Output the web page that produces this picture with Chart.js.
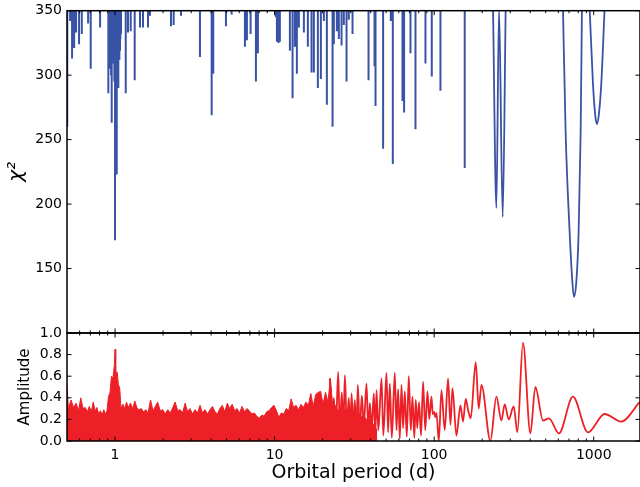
<!DOCTYPE html>
<html>
<head>
<meta charset="utf-8">
<script src="https://cdn.jsdelivr.net/npm/chart.js@4.4.1/dist/chart.umd.min.js"></script>
<style>
  html, body { margin: 0; padding: 0; background: #fff; }
  #wrap { position: relative; width: 640px; height: 487px; overflow: hidden; }
  .panel { position: absolute; left: 0; width: 640px; }
  #topPanel { top: 0; height: 334px; }
  #bottomPanel { top: 320px; height: 167px; }
</style>
</head>
<body>
<div id="wrap">
  <div class="panel" id="topPanel"><canvas id="chiChart"></canvas></div>
  <div class="panel" id="bottomPanel"><canvas id="ampChart"></canvas></div>
</div>
<script>
// Period axis (days), shared by both panels
const periodRange = [0.5, 1950];
const decadeLabels = [1, 10, 100, 1000];

// Top panel: chi-squared, narrow dips (period, minimum chi2)
const chiRange = [100, 350];
const dipPeriods = [0.502, 0.523, 0.538, 0.554, 0.570, 0.595, 0.619, 0.678, 0.704, 0.806,
    0.908, 0.915, 0.925, 0.935, 0.945, 0.953, 0.960, 0.965, 0.972, 0.980,
    0.990, 1.000, 1.008, 1.015, 1.025, 1.035, 1.049, 1.060, 1.065, 1.075,
    1.080, 1.090, 1.167, 1.206, 1.254, 1.328, 1.434, 1.497, 1.609, 1.656,
    2.242, 2.331, 2.590, 3.406, 4.032, 4.126, 4.956, 5.379, 6.517, 6.708,
    7.073, 7.637, 7.860, 10.19, 10.34, 10.59, 10.79, 12.47, 12.96, 13.40,
    13.79, 14.20, 15.26, 16.16, 17.04, 17.63, 18.67, 19.50, 20.36, 21.26,
    23.08, 23.51, 24.55, 25.27, 26.27, 27.16, 28.24, 29.19, 30.79, 38.79,
    42.29, 42.90, 47.86, 53.48, 55.06, 63.32, 64.79, 71.06, 76.37, 88.22,
    96.61, 109.5, 155.4];
const dipChi2 = [260, 342, 313, 321, 333, 324, 332, 340, 305, 337,
    286, 318, 305, 322, 300, 263, 316, 309, 312, 320,
    295, 172, 315, 305, 223, 318, 290, 325, 312, 319,
    328, 332, 286, 333, 334, 296, 337, 337, 337, 346,
    338, 339, 346, 314, 269, 301, 338, 347, 322, 327,
    332, 295, 317, 345, 326, 325, 326, 319, 282, 322,
    301, 337, 333, 322, 302, 302, 290, 297, 342, 277,
    260, 324, 334, 328, 323, 339, 295, 343, 332, 296,
    307, 276, 243, 342, 231, 280, 271, 317, 258, 309,
    299, 288, 228];

// Top panel: broad minima at long periods (null = curve leaves the frame)
const troughPeriods = [233.8, 245.5, 255.0, 268.9, 280.7, null,
    641.6, 667.0, 706.6, 734.5, 751.6, 778.2, 804.3, 827.9, 843.7, null,
    942.6, 988.5, 1020, 1047, 1078, 1116, 1170];
const troughChi2 = [352, 197, 352, 190, 352, null,
    352, 255, 178, 140, 128, 140, 178, 255, 352, null,
    352, 294, 270, 262, 270, 294, 352];

// Bottom panel: amplitude, dense short-period part (upper edge of the filled band)
const envPeriods = [0.50, 0.51, 0.53, 0.55, 0.57, 0.59, 0.61, 0.63, 0.65, 0.67,
    0.69, 0.71, 0.73, 0.75, 0.77, 0.79, 0.81, 0.83, 0.85, 0.87,
    0.89, 0.91, 0.93, 0.95, 0.97, 0.99, 1.00, 1.01, 1.03, 1.05,
    1.07, 1.09, 1.12, 1.15, 1.18, 1.21, 1.25, 1.29, 1.33, 1.37,
    1.41, 1.46, 1.51, 1.56, 1.61, 1.67, 1.73, 1.79, 1.85, 1.92,
    1.99, 2.06, 2.14, 2.22, 2.30, 2.38, 2.47, 2.56, 2.65, 2.75,
    2.85, 2.95, 3.06, 3.17, 3.29, 3.41, 3.53, 3.66, 3.80, 3.94,
    4.08, 4.23, 4.38, 4.54, 4.70, 4.87, 5.05, 5.23, 5.42, 5.62,
    5.82, 6.03, 6.25, 6.47, 6.71, 6.95, 7.20, 7.46, 7.73, 8.01,
    8.30, 8.60, 8.91, 9.23, 9.57, 9.91, 10.27, 10.64, 11.02, 11.42,
    11.83, 12.26, 12.70, 13.16, 13.63, 14.12, 14.63, 15.16, 15.71, 16.27,
    16.86, 17.47, 18.10, 18.75, 19.42, 20.12, 20.85, 21.60, 22.38, 23.2,
    24.0, 25.0, 26.0, 27.0, 28.0, 29.0, 30.0, 31.5, 33.0, 34.5,
    36.0, 38.0, 40.0, 42.0, 44.0];
const envAmp = [0.52, 0.30, 0.38, 0.31, 0.35, 0.28, 0.40, 0.30, 0.31, 0.27,
    0.32, 0.27, 0.36, 0.28, 0.31, 0.25, 0.28, 0.24, 0.29, 0.25,
    0.28, 0.41, 0.45, 0.60, 0.58, 0.70, 0.85, 0.62, 0.64, 0.52,
    0.49, 0.30, 0.34, 0.30, 0.36, 0.31, 0.35, 0.30, 0.37, 0.31,
    0.29, 0.30, 0.27, 0.29, 0.26, 0.38, 0.28, 0.32, 0.36, 0.28,
    0.29, 0.25, 0.29, 0.26, 0.31, 0.36, 0.28, 0.29, 0.26, 0.35,
    0.27, 0.30, 0.25, 0.29, 0.26, 0.33, 0.26, 0.29, 0.25, 0.29,
    0.32, 0.27, 0.25, 0.30, 0.33, 0.27, 0.35, 0.30, 0.34, 0.28,
    0.30, 0.26, 0.32, 0.27, 0.30, 0.28, 0.25, 0.26, 0.23, 0.21,
    0.24, 0.23, 0.27, 0.28, 0.31, 0.33, 0.28, 0.22, 0.26, 0.25,
    0.30, 0.28, 0.39, 0.31, 0.33, 0.29, 0.34, 0.31, 0.36, 0.33,
    0.44, 0.32, 0.43, 0.45, 0.46, 0.34, 0.45, 0.36, 0.58, 0.30,
    0.33, 0.28, 0.31, 0.27, 0.30, 0.25, 0.28, 0.24, 0.27, 0.22,
    0.24, 0.19, 0.20, 0.14, 0.10];

// Bottom panel: resolved oscillations (peaks and troughs) at longer periods
const wavePeriods = [22.20, 22.85, 23.51, 24.20, 25.02, 25.64, 26.39, 26.97, 27.56, 28.36,
    29.19, 29.83, 30.35, 31.15, 31.83, 32.53, 33.23, 34.20, 35.21, 36.24,
    37.68, 38.67, 39.52, 40.67, 41.86, 42.78, 43.52, 44.67, 46.78, 48.01,
    50.27, 51.44, 52.72, 54.27, 56.67, 58.07, 59.43, 60.91, 62.42, 63.87,
    65.46, 67.37, 69.35, 71.37, 73.14, 75.06, 76.70, 78.38, 80.35, 82.78,
    85.20, 87.95, 90.79, 93.18, 96.18, 98.00, 99.86, 101.6, 103.4, 106.9,
    111.1, 116.5, 122.2, 126.5, 130.2, 137.9, 146.1, 151.7, 157.7, 163.5,
    169.5, 182.2, 190.2, 197.8, 225.2, 245.5, 263.9, 276.7, 293.2, 315.1,
    332.3, 360.3, 400.9, 430.9, 480.8, 524.3, 605.3, 740.9, 919.6, 1170,
    1489, 1939];
const waveAmp = [0.58, 0.08, 0.40, 0.10, 0.64, 0.12, 0.45, 0.08, 0.61, 0.15,
    0.40, 0.05, 0.44, 0.12, 0.38, 0.06, 0.52, 0.10, 0.42, 0.15,
    0.53, 0.08, 0.35, 0.12, 0.44, 0.05, 0.47, 0.10, 0.58, 0.05,
    0.63, 0.08, 0.53, 0.03, 0.63, 0.10, 0.48, 0.02, 0.52, 0.12,
    0.46, 0.04, 0.60, 0.10, 0.41, 0.03, 0.38, 0.12, 0.36, 0.05,
    0.55, 0.10, 0.46, 0.20, 0.41, 0.25, 0.27, 0.22, 0.26, 0.00,
    0.47, 0.10, 0.58, 0.15, 0.49, 0.05, 0.33, 0.18, 0.39, 0.28,
    0.21, 0.73, 0.30, 0.52, 0.00, 0.41, 0.19, 0.34, 0.20, 0.32,
    0.08, 0.91, 0.07, 0.50, 0.19, 0.21, 0.07, 0.41, 0.08, 0.25,
    0.18, 0.36];

const FONT = "'DejaVu Sans', sans-serif";
const BLUE = '#3852a6';
const RED = '#ec2026';

// each dip is a vertical stroke from the top of the frame down to its minimum
const spikePoints = [];
dipPeriods.forEach((p, i) => {
    spikePoints.push({x: p, y: chiRange[1]}, {x: p, y: dipChi2[i]}, {x: p, y: null});
});
const troughPoints = troughPeriods.map((p, i) => ({x: p, y: troughChi2[i]}));
const envPoints = envPeriods.map((p, i) => ({x: p, y: envAmp[i]}));
const wavePoints = wavePeriods.map((p, i) => ({x: p, y: waveAmp[i]}));

// inward tick marks on all four sides plus the frame, matplotlib style
const frameTicks = {
    id: 'frameTicks',
    afterDatasetsDraw(chart) {
        const {ctx, chartArea: a, scales} = chart;
        ctx.save();
        ctx.strokeStyle = '#000';
        ctx.lineWidth = 1;
        const xs = scales.x;
        xs.ticks.forEach(t => {
            const v = t.value;
            if (v <= xs.min || v >= xs.max) return;
            const e = Math.floor(Math.log10(v) + 1e-9);
            const m = v / Math.pow(10, e);
            if (Math.abs(m - Math.round(m)) > 1e-6) return;
            const len = Math.round(m) === 1 ? 4.5 : 2.5;
            const px = xs.getPixelForValue(v);
            ctx.beginPath();
            ctx.moveTo(px, a.top); ctx.lineTo(px, a.top + len);
            ctx.moveTo(px, a.bottom); ctx.lineTo(px, a.bottom - len);
            ctx.stroke();
        });
        const ys = scales.y;
        ys.ticks.forEach(t => {
            const py = ys.getPixelForValue(t.value);
            ctx.beginPath();
            ctx.moveTo(a.left, py); ctx.lineTo(a.left + 4.5, py);
            ctx.moveTo(a.right, py); ctx.lineTo(a.right - 4.5, py);
            ctx.stroke();
        });
        ctx.lineWidth = 1.5;
        ctx.strokeRect(a.left, a.top, a.right - a.left, a.bottom - a.top);
        ctx.restore();
    }
};

function periodTicks(scale) {
    const ticks = [];
    for (let e = -1; e <= 3; e++) {
        for (let m = 1; m <= 9; m++) {
            const v = m * Math.pow(10, e);
            if (v >= scale.min && v <= scale.max) ticks.push({value: v});
        }
    }
    scale.ticks = ticks;
}

// no label overhang padding: the plot box is fixed by layout padding alone
function noOverhang(s) {
    s.paddingTop = 0;
    s.paddingBottom = 0;
    s.paddingLeft = 0;
    s.paddingRight = 0;
}

function periodAxis(showLabels) {
    return {
        type: 'logarithmic',
        display: showLabels,
        min: periodRange[0],
        max: periodRange[1],
        grid: {display: false, drawTicks: false},
        border: {display: false},
        afterBuildTicks: periodTicks,
        afterFit: s => { s.height = showLabels ? 46 : 0; noOverhang(s); },
        ticks: {
            autoSkip: false,
            maxRotation: 0,
            padding: 6,
            color: '#000',
            font: {family: FONT, size: 14},
            callback: v => decadeLabels.includes(v) ? String(v) : ''
        },
        title: {
            display: showLabels,
            text: 'Orbital period (d)',
            color: '#000',
            font: {family: FONT, size: 19},
            padding: {top: 0, bottom: 3}
        }
    };
}

const common = {
    responsive: true,
    maintainAspectRatio: false,
    animation: false,
    plugins: {legend: {display: false}, tooltip: {enabled: false}},
    elements: {point: {radius: 0}}
};

new Chart(document.getElementById('chiChart'), {
    type: 'line',
    data: {
        datasets: [
            {data: spikePoints, borderColor: BLUE, borderWidth: 2, spanGaps: false},
            {data: troughPoints, borderColor: BLUE, borderWidth: 1.8, spanGaps: false,
                cubicInterpolationMode: 'monotone'}
        ]
    },
    options: Object.assign({}, common, {
        layout: {padding: {top: 10.7, right: 0, bottom: 1, left: 0}, autoPadding: false},
        scales: {
            x: periodAxis(false),
            y: {
                min: chiRange[0],
                max: chiRange[1],
                grid: {display: false, drawTicks: false},
                border: {display: false},
                afterFit: s => { s.width = 67; noOverhang(s); },
                ticks: {
                    stepSize: 50,
                    padding: 5,
                    color: '#000',
                    font: {family: FONT, size: 14},
                    callback: v => v >= 150 ? String(v) : ''
                },
                title: {
                    display: true,
                    text: 'χ²',
                    color: '#000',
                    font: {family: FONT, size: 20, style: 'italic'},
                    padding: {top: 5, bottom: 0}
                }
            }
        }
    }),
    plugins: [frameTicks]
});

new Chart(document.getElementById('ampChart'), {
    type: 'line',
    data: {
        datasets: [
            {data: envPoints, borderColor: RED, backgroundColor: RED, borderWidth: 1,
                fill: 'origin'},
            {data: wavePoints, borderColor: RED, borderWidth: 1.8,
                cubicInterpolationMode: 'monotone'}
        ]
    },
    options: Object.assign({}, common, {
        layout: {padding: {top: 13, right: 0, bottom: 0, left: 0}, autoPadding: false},
        scales: {
            x: periodAxis(true),
            y: {
                min: 0,
                max: 1,
                grid: {display: false, drawTicks: false},
                border: {display: false},
                afterFit: s => { s.width = 67; noOverhang(s); },
                ticks: {
                    stepSize: 0.2,
                    padding: 5,
                    color: '#000',
                    font: {family: FONT, size: 14},
                    callback: v => v.toFixed(1)
                },
                title: {
                    display: true,
                    text: 'Amplitude',
                    color: '#000',
                    font: {family: FONT, size: 15},
                    padding: {top: 16, bottom: 0}
                }
            }
        }
    }),
    plugins: [frameTicks]
});
</script>
</body>
</html>
